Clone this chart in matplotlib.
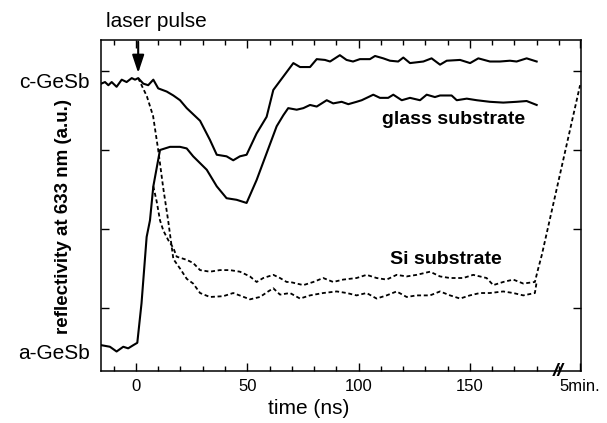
import numpy as np
import matplotlib
matplotlib.use("Agg")
import matplotlib.pyplot as plt
from matplotlib.ticker import MultipleLocator

plt.rcParams['font.family'] = ['Liberation Sans', 'DejaVu Sans']

# glass substrate, starting crystalline (amorphization)
glass_c_t = [-15.6, -13.9, -12.4, -10.9, -8.7, -6.4, -4.2, -1.9, -0.4, 1.0, 3.3, 5.5, 7.8, 10.0,
             13.8, 16.8, 19.8, 22.8, 28.8, 33.2, 36.3, 40.7, 43.7, 46.7, 49.7, 54.2, 58.7, 61.7,
             66.2, 70.7, 73.7, 78.2, 81.2, 84.9, 87.2, 91.6, 94.6, 97.5, 100.6, 105.1, 107.4,
             111.1, 114.1, 117.8, 120.1, 123.1, 129.1, 132.8, 136.6, 139.6, 145.6, 150.1, 153.8,
             159.0, 163.5, 168.0, 171.0, 175.5, 180.0]
glass_c_r = [3.84, 3.86, 3.82, 3.86, 3.80, 3.89, 3.86, 3.91, 3.89, 3.91, 3.84, 3.82, 3.89, 3.78,
             3.74, 3.69, 3.63, 3.53, 3.37, 3.13, 2.94, 2.92, 2.87, 2.92, 2.94, 3.21, 3.42, 3.76,
             3.93, 4.10, 4.05, 4.05, 4.15, 4.14, 4.12, 4.20, 4.14, 4.12, 4.15, 4.15, 4.19,
             4.16, 4.13, 4.12, 4.17, 4.10, 4.12, 4.16, 4.08, 4.13, 4.14, 4.10, 4.16,
             4.12, 4.12, 4.13, 4.12, 4.16, 4.12]

# glass substrate, starting amorphous (crystallization)
glass_a_t = [-15.6, -11.7, -8.7, -5.7, -3.5, -1.2, 0.6, 2.5, 4.8, 6.3, 7.8, 10.8, 15.3, 19.8,
             22.8, 25.7, 31.8, 36.3, 40.7, 45.2, 49.7, 54.2, 58.7, 63.2, 66.2, 68.4, 72.2, 75.2,
             78.2, 81.2, 85.7, 88.6, 92.4, 95.4, 99.1, 101.4, 104.4, 106.6, 109.6, 113.3, 115.6,
             119.4, 123.1, 127.6, 130.6, 134.3, 136.6, 141.8, 144.1, 148.6, 153.1, 159.0, 165.0,
             171.0, 175.5, 180.0]
glass_a_r = [0.53, 0.51, 0.45, 0.51, 0.49, 0.53, 0.56, 1.06, 1.90, 2.11, 2.54, 3.00, 3.04, 3.04,
             3.02, 2.92, 2.75, 2.54, 2.39, 2.37, 2.33, 2.62, 2.96, 3.30, 3.44, 3.53, 3.51, 3.53,
             3.57, 3.55, 3.63, 3.59, 3.61, 3.58, 3.61, 3.63, 3.67, 3.70, 3.66, 3.66, 3.70,
             3.63, 3.66, 3.63, 3.70, 3.67, 3.69, 3.69, 3.63, 3.65, 3.63, 3.61, 3.60,
             3.61, 3.62, 3.57]

# Si substrate, starting crystalline
si_c_t = [1.0, 4.9, 7.7, 10.0, 12.2, 14.5, 16.8, 19.8, 22.8, 25.7, 28.8, 33.2, 39.2, 43.7, 47.5,
          51.2, 55.7, 59.4, 61.7, 64.7, 69.2, 73.7, 78.2, 84.1, 90.2, 94.7, 99.1, 103.6, 108.1,
          112.6, 117.1, 121.6, 126.1, 132.1, 136.6, 141.1, 145.6, 150.0, 154.5, 159.0, 165.0,
          169.5, 174.0, 179.2, 180.0]
si_c_r = [3.91, 3.68, 3.43, 3.00, 2.53, 2.10, 1.62, 1.50, 1.37, 1.31, 1.19, 1.14, 1.15, 1.19, 1.15,
          1.11, 1.14, 1.21, 1.25, 1.17, 1.19, 1.12, 1.16, 1.19, 1.21, 1.19, 1.16, 1.19, 1.12,
          1.16, 1.21, 1.14, 1.16, 1.16, 1.21, 1.16, 1.12, 1.16, 1.19, 1.19, 1.21,
          1.19, 1.16, 1.19, 1.33]

# Si substrate, starting amorphous (last point = after 5 min)
si_a_t = [7.8, 9.3, 10.8, 12.3, 14.5, 16.8, 18.3, 22.8, 25.7, 28.8, 33.2, 37.7, 42.2, 46.7, 51.2,
          54.2, 57.2, 61.7, 64.7, 67.7, 69.2, 75.2, 79.7, 84.1, 88.6, 93.1, 99.1, 103.6, 108.1,
          112.6, 117.1, 121.6, 126.1, 132.1, 136.6, 141.1, 147.0, 151.5, 157.5, 160.5, 165.0,
          169.5, 174.0, 179.2, 180.7, 182.3, 199.5]
si_a_r = [2.54, 2.35, 2.11, 1.98, 1.86, 1.76, 1.65, 1.61, 1.57, 1.48, 1.46, 1.48, 1.48, 1.46, 1.40,
          1.33, 1.38, 1.42, 1.38, 1.33, 1.33, 1.29, 1.33, 1.38, 1.33, 1.36, 1.38, 1.42, 1.38,
          1.36, 1.42, 1.40, 1.42, 1.46, 1.40, 1.38, 1.38, 1.42, 1.38, 1.29, 1.33,
          1.36, 1.31, 1.33, 1.50, 1.67, 3.82]

x_ticks = [0, 50, 100, 150, 199.5]
x_ticklabels = ['0', '50', '100', '150', '5min.']

fig = plt.figure(figsize=(6.07, 4.23), dpi=100)
ax = fig.add_axes([0.1664, 0.1229, 0.7907, 0.7825])

ax.plot(glass_c_t, glass_c_r, color='black', lw=1.5)
ax.plot(glass_a_t, glass_a_r, color='black', lw=1.5)
ax.plot(si_c_t, si_c_r, color='black', lw=1.3, ls=(0, (2.2, 1.5)))
ax.plot(si_a_t, si_a_r, color='black', lw=1.3, ls=(0, (2.2, 1.5)))

ax.set_xlim(-15.7, 199.9)
ax.set_ylim(0.203, 4.392)

ax.set_xticks(x_ticks)
ax.set_xticklabels(x_ticklabels, fontsize=12)
ax.xaxis.set_minor_locator(MultipleLocator(10))
ax.set_yticks([1, 2, 3, 4])
ax.set_yticklabels([])
ax.tick_params(which='both', direction='in', top=True, right=True, width=1)
ax.tick_params(which='major', length=6, pad=6)
ax.tick_params(which='minor', length=3.5)
for s in ax.spines.values():
    s.set_linewidth(1.1)

ax.set_xlabel('time (ns)', fontsize=15)
ax.xaxis.set_label_coords(0.433, -0.085)
ax.set_ylabel('reflectivity at 633 nm (a.u.)', fontsize=13.5, fontweight='bold')
ax.yaxis.set_label_coords(-0.06, 0.468)

ytr = ax.get_yaxis_transform()
ax.text(-0.023, 3.86, 'c-GeSb', transform=ytr, ha='right', va='center', fontsize=15)
ax.text(-0.023, 0.43, 'a-GeSb', transform=ytr, ha='right', va='center', fontsize=15)

ax.text(142.8, 3.38, 'glass substrate', ha='center', va='center', fontsize=14, fontweight='bold')
ax.text(139.3, 1.61, 'Si substrate', ha='center', va='center', fontsize=14, fontweight='bold')

# break mark on the time axis
ax.text(189.5, 0.203, '//', ha='center', va='center', fontsize=14, fontweight='bold',
        style='italic', clip_on=False)

# laser pulse arrow
ax.annotate('', xy=(1.0, 3.975), xytext=(1.0, 4.37),
            arrowprops=dict(arrowstyle='-|>,head_length=0.9,head_width=0.3',
                            color='black', lw=1.5, mutation_scale=12,
                            shrinkA=0, shrinkB=0))
fig.text(0.257, 0.948, 'laser pulse', ha='center', va='center', fontsize=15)

plt.savefig('out.png', dpi=100)
